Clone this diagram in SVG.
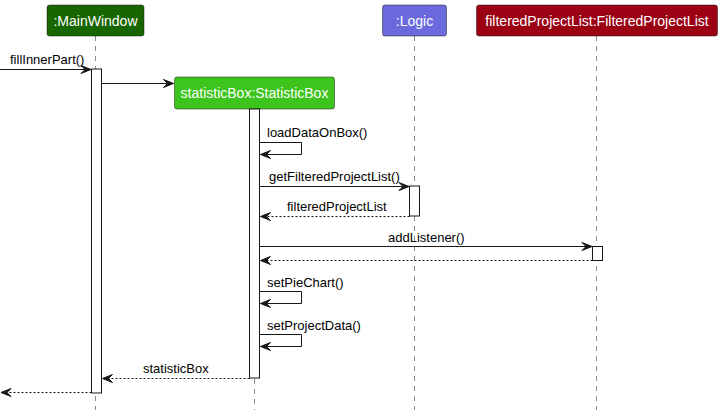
<svg xmlns="http://www.w3.org/2000/svg" width="722" height="416" viewBox="0 0 722 416">
<style>
.life{stroke:#181818;stroke-width:0.5;stroke-dasharray:5,5;fill:none}
.act{fill:#FFFFFF;stroke:#181818;stroke-width:1}
.box{stroke:#181818;stroke-width:0.5}
.bt{font-family:"Liberation Sans",Arial,sans-serif;font-size:14px;fill:#FFFFFF;text-anchor:middle}
.mt{font-family:"Liberation Sans",Arial,sans-serif;font-size:13px;fill:#000000}
.msg{stroke:#181818;stroke-width:1;fill:none;marker-end:url(#ah)}
.ret{stroke:#181818;stroke-width:1;fill:none;stroke-dasharray:2,2;marker-end:url(#ah)}
</style>
<defs>
<marker id="ah" markerUnits="userSpaceOnUse" markerWidth="12" markerHeight="10" refX="10" refY="4" orient="auto" overflow="visible">
<path d="M0,0 L10,4 L0,8 L4,4 Z" fill="#181818" stroke="#181818" stroke-width="1"/>
</marker>
</defs>
<g id="lifelines">
<line class="life" x1="95.5" y1="36" x2="95.5" y2="410"/>
<line class="life" x1="254.5" y1="109" x2="254.5" y2="410"/>
<line class="life" x1="414.5" y1="36" x2="414.5" y2="410"/>
<line class="life" x1="596.5" y1="36" x2="596.5" y2="410"/>
</g>
<g id="MainWindow">
<rect class="box" x="47" y="5" width="97" height="31" rx="2.5" fill="#176600"/>
<text class="bt" x="95.5" y="26">:MainWindow</text>
<rect class="act" x="91.5" y="69" width="10" height="324"/>
</g>
<g id="statisticBox">
<rect class="box" x="174.5" y="77" width="160" height="32" rx="2.5" fill="#3DC41D"/>
<text class="bt" x="254.5" y="98">statisticBox:StatisticBox</text>
<rect class="act" x="249.5" y="109" width="10" height="269"/>
</g>
<g id="Logic">
<rect class="box" x="382.5" y="5" width="64" height="31" rx="2.5" fill="#6A6ADE"/>
<text class="bt" x="414.5" y="26">:Logic</text>
<rect class="act" x="409.5" y="186" width="10" height="30"/>
</g>
<g id="filteredProjectList">
<rect class="box" x="476.5" y="5" width="241" height="31" rx="2.5" fill="#9B0013"/>
<text class="bt" x="597" y="26">filteredProjectList:FilteredProjectList</text>
<rect class="act" x="592.5" y="246.5" width="10" height="14"/>
</g>
<g id="connectors">
<line class="msg" x1="0" y1="69.5" x2="91" y2="69.5"/>
<text class="mt" x="10" y="64">fillInnerPart()</text>
<line class="msg" x1="101.5" y1="83.5" x2="173.5" y2="83.5"/>
<polyline class="msg" points="259.5,142.5 301.5,142.5 301.5,154.5 260.5,154.5"/>
<text class="mt" x="267" y="137">loadDataOnBox()</text>
<line class="msg" x1="259.5" y1="186.5" x2="409" y2="186.5"/>
<text class="mt" x="269" y="181">getFilteredProjectList()</text>
<line class="ret" x1="409.5" y1="216.5" x2="260.5" y2="216.5"/>
<text class="mt" x="287" y="211">filteredProjectList</text>
<line class="msg" x1="259.5" y1="246.5" x2="592" y2="246.5"/>
<text class="mt" x="388" y="242">addListener()</text>
<line class="ret" x1="592.5" y1="260.5" x2="260.5" y2="260.5"/>
<polyline class="msg" points="259.5,291.5 301.5,291.5 301.5,303.5 260.5,303.5"/>
<text class="mt" x="267" y="287">setPieChart()</text>
<polyline class="msg" points="259.5,334.5 301.5,334.5 301.5,346.5 260.5,346.5"/>
<text class="mt" x="267" y="330">setProjectData()</text>
<line class="ret" x1="249.5" y1="378.5" x2="102.5" y2="378.5"/>
<text class="mt" x="143" y="373">statisticBox</text>
<line class="ret" x1="91.5" y1="392.5" x2="1" y2="392.5"/>
</g>
</svg>
